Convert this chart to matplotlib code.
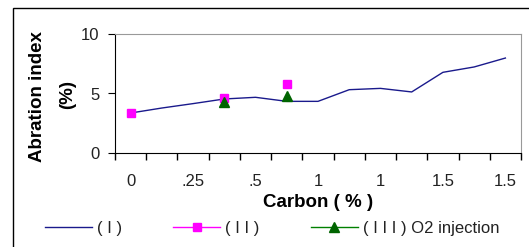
import numpy as np
import matplotlib.pyplot as plt
from matplotlib.patches import Rectangle

plt.rcParams['font.family'] = ['Liberation Sans', 'DejaVu Sans']

# category axis (Excel style), labels shown every other category
categories = ['0', '', '.25', '', '.5', '', '1', '', '1', '', '1.5', '', '1.5']
series_1 = [3.36, 3.78, 4.15, 4.54, 4.68, 4.34, 4.34, 5.32, 5.43, 5.13, 6.78, 7.23, 7.98]
series_2 = [3.4, None, None, 4.62, None, 5.83, None, None, None, None, None, None, None]
series_3 = [None, None, None, 4.25, None, 4.75, None, None, None, None, None, None, None]
labels = ['( I )', '( I I )', '( I I I ) O2 injection']

def arr(v):
    return np.array([np.nan if x is None else x for x in v], dtype=float)

x = np.arange(len(categories))

fig = plt.figure(figsize=(5.29, 2.47), dpi=100)
ax = fig.add_axes([115/529, 1-153/247, 406/529, 119/247])

l1, = ax.plot(x, arr(series_1), color='#1a1a8c', lw=1.0, label=labels[0])
l2, = ax.plot(x, arr(series_2), color='#ff00ff', lw=1.0, marker='s', ms=6,
              label=labels[1])
l3, = ax.plot(x, arr(series_3), color='#008000', lw=1.0, marker='^', ms=7,
              mfc='#006400', mec='#006400', label=labels[2])

ax.set_xlim(-0.5, len(categories) - 0.5)
ax.set_ylim(0, 10)
ax.set_yticks([0, 5, 10])
ax.set_xticks(x)
ax.set_xticklabels(categories)
ax.set_xticks(np.arange(-0.5, len(categories)), minor=True)
ax.tick_params(axis='x', which='major', length=0, pad=15, labelsize=12,
               labelcolor='#222222')
ax.tick_params(axis='x', which='minor', length=5, direction='out', width=1)
ax.tick_params(axis='y', length=5, direction='out', pad=6, labelsize=12,
               labelcolor='#222222')

for s in ['top', 'right']:
    ax.spines[s].set_color('#999999')
for s in ['left', 'bottom']:
    ax.spines[s].set_color('black')

ax.set_xlabel('Carbon ( % )', fontsize=13.5, fontweight='bold', labelpad=4)
fig.text(38/529, 1-97/247, 'Abration index', rotation=90, ha='center',
         va='center', fontsize=13.5, fontweight='bold')
fig.text(68/529, 1-94/247, '(%)', rotation=90, ha='center',
         va='center', fontsize=13.5, fontweight='bold')

fig.legend(handles=[l1, l2, l3], loc='center', ncol=3, frameon=False,
           bbox_to_anchor=(272/529, 1-228/247), fontsize=12,
           handlelength=2.8, handletextpad=0.3, columnspacing=3.1,
           labelcolor='#222222')

# outer chart border
fig.patches.append(Rectangle((13/529, -0.1), 1.2, 1-8/247+0.1,
                             transform=fig.transFigure, fill=False,
                             edgecolor='black', lw=1))

fig.savefig('out.png', dpi=100)
